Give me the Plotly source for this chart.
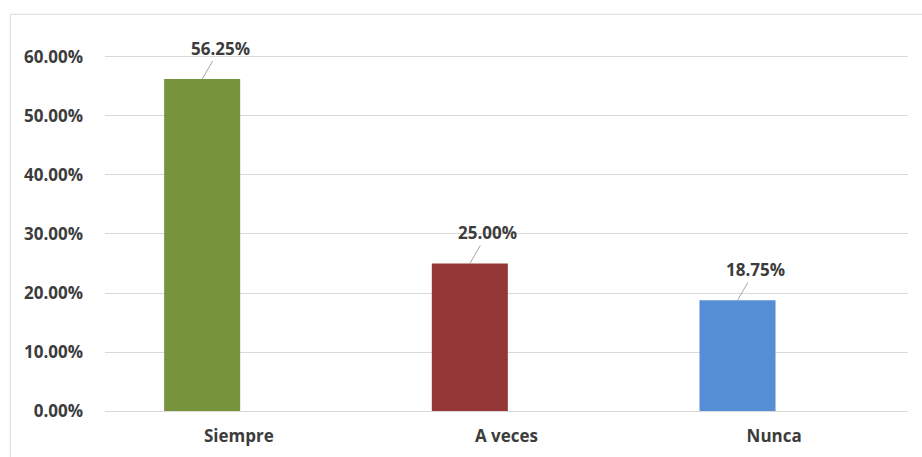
import plotly.graph_objects as go

# Survey response shares
categories = ["Siempre", "A veces", "Nunca"]
values = [0.5625, 0.25, 0.1875]
bar_colors = ["#77933C", "#953735", "#558ED5"]
y_ticks = [0.0, 0.1, 0.2, 0.3, 0.4, 0.5, 0.6]

positions = list(range(len(categories)))
bar_offset = -0.279
bar_width = 0.284
text_color = "#3c3c3c"
font_family = "Open Sans"
font_size = 17

fig = go.Figure()
fig.add_trace(go.Bar(
    x=positions,
    y=values,
    marker=dict(color=bar_colors, line=dict(width=0)),
    offset=bar_offset,
    width=bar_width,
    hoverinfo="skip",
))

# Value labels with short leader lines
for p, v in zip(positions, values):
    fig.add_annotation(
        x=p + bar_offset + bar_width / 2,
        y=v,
        xref="x",
        yref="y",
        text=f"{v * 100:.2f}%",
        showarrow=True,
        arrowhead=0,
        arrowwidth=1,
        arrowcolor="#a6a6a6",
        ax=18,
        ay=-31,
        standoff=0,
        font=dict(family=font_family, size=font_size, color=text_color, weight="bold"),
    )

# Light chart-area border
fig.add_shape(
    type="rect", xref="paper", yref="paper",
    x0=-0.118, x1=1.2, y0=-0.2, y1=1.02,
    line=dict(color="#d9d9d9", width=1), fillcolor="rgba(0,0,0,0)",
    layer="below",
)

fig.update_layout(
    width=922,
    height=457,
    margin=dict(l=105, r=14, t=22, b=46),
    paper_bgcolor="white",
    plot_bgcolor="white",
    showlegend=False,
    xaxis=dict(
        range=[-0.5, 2.5],
        tickmode="array",
        tickvals=positions,
        ticktext=categories,
        showgrid=False,
        zeroline=False,
        showline=False,
        ticks="",
        ticklabelstandoff=13,
        automargin=False,
        tickfont=dict(family=font_family, size=font_size, color=text_color, weight="bold"),
        fixedrange=True,
    ),
    yaxis=dict(
        range=[0, 0.6593],
        tickmode="array",
        tickvals=y_ticks,
        tickformat=".2%",
        showgrid=True,
        gridcolor="#d9d9d9",
        gridwidth=1,
        zeroline=True,
        zerolinecolor="#d9d9d9",
        zerolinewidth=1,
        showline=False,
        ticks="",
        ticklabelstandoff=21,
        automargin=False,
        tickfont=dict(family=font_family, size=font_size, color=text_color, weight="bold"),
        fixedrange=True,
    ),
)

fig.write_html("out.html")
